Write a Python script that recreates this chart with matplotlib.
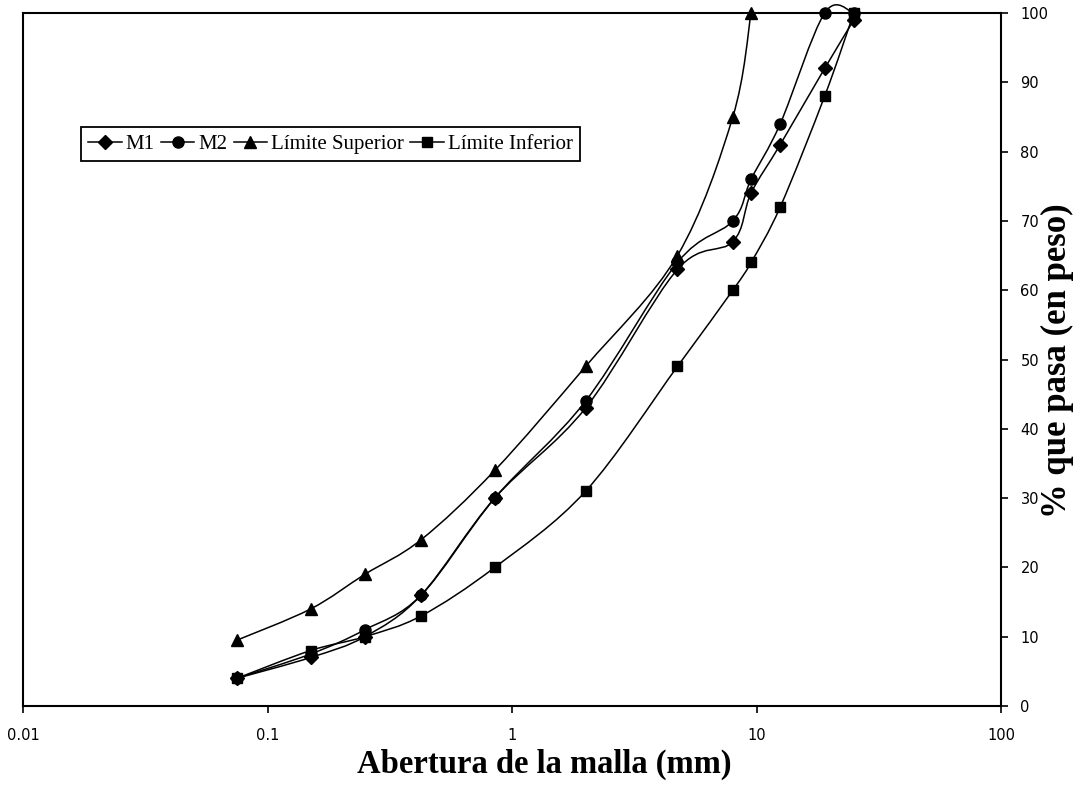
import matplotlib
matplotlib.use("Agg")
import matplotlib.pyplot as plt
import numpy as np
from matplotlib.path import Path
from matplotlib.patches import PathPatch
from matplotlib.lines import Line2D

# sieve openings (mm)
abertura = [0.075, 0.15, 0.25, 0.425, 0.85, 2.0, 4.75, 8.0, 9.5, 12.5, 19.0, 25.0]
abertura_sup = [0.075, 0.15, 0.25, 0.425, 0.85, 2.0, 4.75, 8.0, 9.5]

# % passing (by weight)
m1 = [4, 7, 10, 16, 30, 43, 63, 67, 74, 81, 92, 99]
m2 = [4, 7.5, 11, 16, 30, 44, 64, 70, 76, 84, 100, 100]
lim_superior = [9.5, 14, 19, 24, 34, 49, 65, 85, 100]
lim_inferior = [4, 8, 10, 13, 20, 31, 49, 60, 64, 72, 88, 100]

x_ticks = [0.01, 0.1, 1, 10, 100]
x_tick_labels = ["0.01", "0.1", "1", "10", "100"]
y_ticks = list(range(0, 101, 10))


def smooth_path(x, y):
    # Excel-like smoothed line (Catmull-Rom bezier in log-x space)
    pts = np.column_stack([np.log10(x), np.asarray(y, dtype=float)])
    n = len(pts)
    verts = [pts[0]]
    codes = [Path.MOVETO]
    for i in range(n - 1):
        p0 = pts[i - 1] if i > 0 else pts[i]
        p1 = pts[i]
        p2 = pts[i + 1]
        p3 = pts[i + 2] if i + 2 < n else pts[i + 1]
        verts += [p1 + (p2 - p0) / 6, p2 - (p3 - p1) / 6, p2]
        codes += [Path.CURVE4] * 3
    verts = np.array(verts)
    verts[:, 0] = 10 ** verts[:, 0]
    return Path(verts, codes)


series = [
    (abertura, m1, "D", 7, "M1"),
    (abertura, m2, "o", 8, "M2"),
    (abertura_sup, lim_superior, "^", 8.5, "Límite Superior"),
    (abertura, lim_inferior, "s", 7.5, "Límite Inferior"),
]

fig = plt.figure(figsize=(10.77, 7.9), dpi=100)
ax = fig.add_axes([23 / 1077, 1 - 706 / 790, (1001 - 23) / 1077, (706 - 13) / 790])
ax.set_xscale("log")
ax.set_xlim(0.01, 100)
ax.set_ylim(0, 100)

handles = []
for x, y, mk, ms, lab in series:
    ax.plot(x, y, ls="none", marker=mk, ms=ms, color="black", clip_on=False, zorder=3)
    patch = PathPatch(smooth_path(x, y), fill=False, edgecolor="black", lw=1.1,
                      clip_on=False, zorder=2)
    ax.add_patch(patch)
    handles.append(Line2D([], [], color="black", lw=1.1, marker=mk, ms=ms, label=lab))

for s in ax.spines.values():
    s.set_linewidth(1.5)
    s.set_color("black")

ax.set_xticks(x_ticks)
ax.set_xticklabels(x_tick_labels)
ax.xaxis.set_minor_locator(matplotlib.ticker.NullLocator())
ax.set_yticks(y_ticks)
ax.yaxis.tick_right()
ax.tick_params(axis="both", direction="out", length=5, width=1.2, labelsize=10.5)
ax.tick_params(axis="x", pad=11)
ax.tick_params(axis="y", pad=9)

ax.set_xlabel("Abertura de la malla (mm)", family="Liberation Serif",
              fontweight="bold", fontsize=23.5)
ax.xaxis.set_label_coords(0.533, -0.062)
ax.yaxis.set_label_position("right")
ax.set_ylabel("% que pasa (en peso)", family="Liberation Serif",
              fontweight="bold", fontsize=25)
ax.yaxis.set_label_coords(1.041, 0.499)

leg = ax.legend(handles=handles, ncol=4, loc="upper left",
                bbox_to_anchor=(81 / 1077, 1 - 127 / 790), bbox_transform=fig.transFigure,
                prop={"family": "Liberation Serif", "size": 15},
                handlelength=1.6, handletextpad=0.2, columnspacing=0.3,
                borderpad=0.35, borderaxespad=0, fancybox=False, framealpha=1)
leg.get_frame().set_edgecolor("black")
leg.get_frame().set_linewidth(1.3)

fig.savefig("out.png", dpi=100)
